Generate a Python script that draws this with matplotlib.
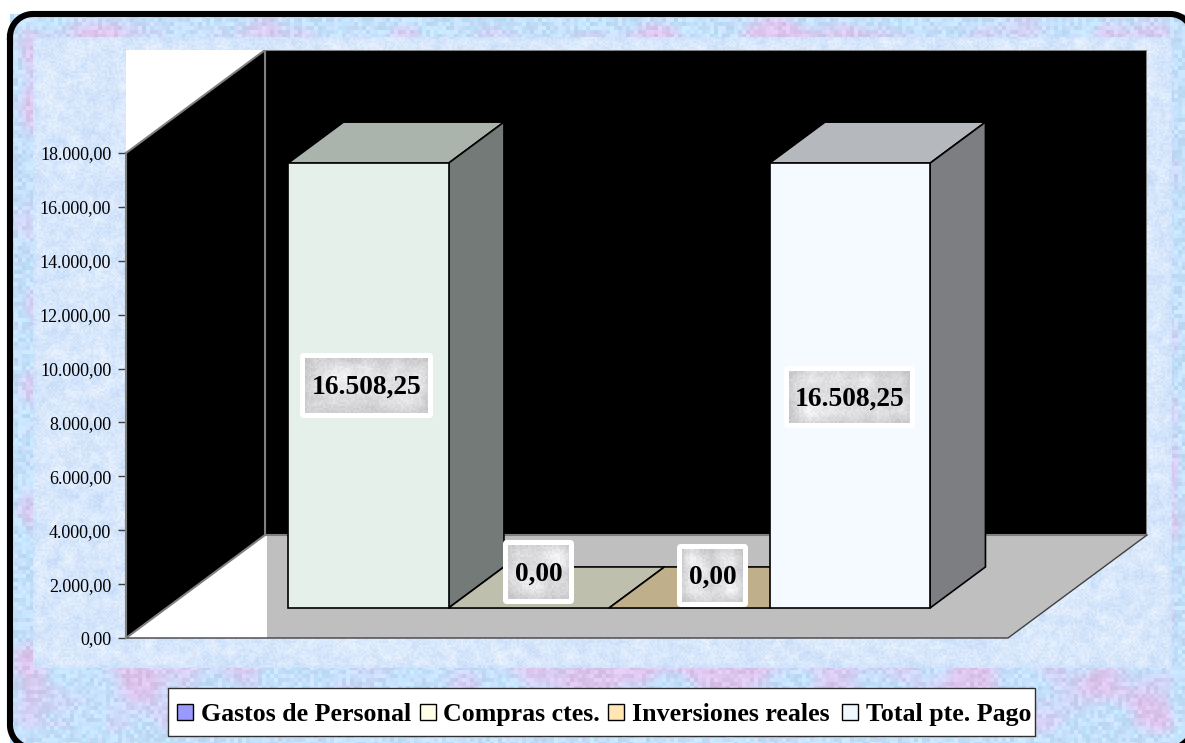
import numpy as np
import matplotlib
matplotlib.use('Agg')
import matplotlib.pyplot as plt
from matplotlib.patches import FancyBboxPatch, Polygon, Rectangle

# DATA
##############################################################################
categories = ['Gastos de Personal', 'Compras ctes.', 'Inversiones reales', 'Total pte. Pago']
values = [16508.25, 0.0, 0.0, 16508.25]
y_ticks = [0, 2000, 4000, 6000, 8000, 10000, 12000, 14000, 16000, 18000]
legend_colors = ['#9999FF', '#FFFFE8', '#FFE6B3', '#F0F8FF']
front_colors = ['#E6F0EB', '#BEBFAD', '#BFAF8A', '#F4FAFF']
side_colors = ['#747A77', '#8F8F82', '#8F8368', '#7D7E82']
top_colors = ['#ABB3AD', '#BEBFAD', '#BFAF8A', '#B5B8BC']

W, H = 1185, 743
SLOT_PX = 160.5
VALUE_PX = 485 / 18000
DEPTH_X = 139 / SLOT_PX    # full floor depth, in slots
DEPTH_Y = 103 / VALUE_PX   # full floor depth, in value units
NEAR, FAR = 0.291, 0.69    # depth range taken up by the bars


# FUNCTIONS
##############################################################################

def spanish(v):
    return f'{v:,.2f}'.replace(',', 'X').replace('.', ',').replace('X', '.')


def proj(x, v, d):  # oblique projection onto the front plane
    return (x + d * DEPTH_X, v + d * DEPTH_Y)


def noise(h, w, block, seed):  # hash noise, blocky, scaled to 0-1
    yy, xx = np.mgrid[0:h // block + 2, 0:w // block + 2]
    n = np.sin(xx * 12.9898 + yy * 78.233 + seed) * 43758.5453
    n = n - np.floor(n)
    return np.kron(n, np.ones((block, block)))[:h, :w]


def blur(a, k):
    kernel = np.ones(k) / k
    a = np.apply_along_axis(lambda r: np.convolve(r, kernel, mode='same'), 0, a)
    return np.apply_along_axis(lambda r: np.convolve(r, kernel, mode='same'), 1, a)


def stretch(a):
    return (a - a.min()) / (a.max() - a.min())


def band_texture(h, w, seed):  # blocky blue/lilac/cyan border
    lilac = stretch(blur(noise(h, w, 24, seed), 37))
    lilac = np.clip((lilac - 0.5) * 3 + 0.35, 0, 1)[..., None]
    cyan = noise(h, w, 4, seed + 1)[..., None]
    fine = noise(h, w, 4, seed + 2)[..., None]
    img = np.array((202, 222, 252)) * np.ones((h, w, 3))
    img = img * (1 - cyan * 0.5) + np.array((182, 234, 252)) * cyan * 0.5
    img = img * (1 - lilac * 0.85) + np.array((226, 194, 236)) * lilac * 0.85
    return np.clip(img + (fine - 0.5) * 24, 0, 255).astype(np.uint8)


def cloud_texture(h, w, base, light, block, seed, spread):  # soft cloudy fill
    soft = stretch(blur(noise(h, w, block, seed), block * 2 - 1))[..., None]
    fine = noise(h, w, 2, seed + 1)[..., None] - 0.5
    img = np.array(base) * (1 - soft) + np.array(light) * soft
    return np.clip(img + fine * spread, 0, 255).astype(np.uint8)


# FIGURE
##############################################################################
plt.rcParams['font.family'] = ['Liberation Serif', 'DejaVu Serif']
fig = plt.figure(figsize=(W / 100, H / 100), dpi=100, facecolor='white')

bg = fig.add_axes([0, 0, 1, 1], zorder=0)
bg.axis('off')
bg.imshow(band_texture(H - 14, W - 10, 1.0), extent=(10, W, H, 14), aspect='auto',
          interpolation='nearest', zorder=1)
bg.imshow(cloud_texture(631, 1139, (200, 222, 250), (232, 241, 254), 5, 2.0, 14), extent=(33, 1172, 668, 37),
          aspect='auto', interpolation='bilinear', zorder=2)

# rounded frame runs past the right and bottom edges of the picture
fx0, fy0, fx1, fy1, fr = 10, 14, 1193, 748, 23
t = np.linspace(0, np.pi / 2, 20)
frame_x = np.r_[fx0 + fr - fr * np.cos(t), fx1 - fr + fr * np.sin(t), fx1 - fr + fr * np.cos(t),
                fx0 + fr - fr * np.sin(t), fx0]
frame_y = np.r_[fy0 + fr - fr * np.sin(t), fy0 + fr - fr * np.cos(t), fy1 - fr + fr * np.sin(t),
                fy1 - fr + fr * np.cos(t), fy0 + fr]
bg.plot(frame_x, frame_y, color='black', lw=4.4, zorder=3)
bg.set_xlim(0, W)
bg.set_ylim(H, 0)

# chart axes: x in bar slots, y in value units
ax = fig.add_axes([126 / W, 1 - 638 / H, 1021 / W, 588 / H], zorder=1)
ax.patch.set_alpha(0)
ax.set_xlim(0, 1021 / SLOT_PX)
ax.set_ylim(0, 588 / VALUE_PX)

floor_w = 882 / SLOT_PX
y_top = 588 / VALUE_PX
white_w = 141 / SLOT_PX

# floor
ax.add_patch(Polygon([proj(0, 0, 0), proj(floor_w, 0, 0), proj(floor_w, 0, 1), proj(0, 0, 1)],
                     fc='#BFBFBF', ec='none', zorder=1))
ax.fill_between([0, white_w], 0, y_top, color='white', lw=0, zorder=2)
# back wall
ax.add_patch(Polygon([proj(0, 0, 1), proj(floor_w, 0, 1), proj(floor_w, 18000, 1), proj(0, 18000, 1)],
                     fc='black', ec='#808080', lw=1.5, zorder=3))
# left wall
ax.add_patch(Polygon([proj(0, 0, 0), proj(0, 0, 1), proj(0, 18000, 1), proj(0, 18000, 0)],
                     fc='black', ec='#808080', lw=1.5, zorder=3))
# floor outline
ax.plot([0, floor_w, floor_w + DEPTH_X], [0, 0, DEPTH_Y], color='#404040', lw=1, zorder=4, clip_on=False)

# bars
bar_x0 = (288 - 126) / SLOT_PX - NEAR * DEPTH_X
for i, v in enumerate(values):
    x = bar_x0 + i
    top = [proj(x, v, NEAR), proj(x + 1, v, NEAR), proj(x + 1, v, FAR), proj(x, v, FAR)]
    ax.add_patch(Polygon(top, fc=top_colors[i], ec='black', lw=1.2, zorder=5 + i))
    if v > 0:
        side = [proj(x + 1, 0, NEAR), proj(x + 1, 0, FAR), proj(x + 1, v, FAR), proj(x + 1, v, NEAR)]
        ax.add_patch(Polygon(side, fc=side_colors[i], ec='black', lw=1.2, zorder=5 + i))
        front = [proj(x, 0, NEAR), proj(x + 1, 0, NEAR), proj(x + 1, v, NEAR), proj(x, v, NEAR)]
        ax.add_patch(Polygon(front, fc=front_colors[i], ec='black', lw=1.2, zorder=5 + i))

# axis
for name in ['top', 'right', 'bottom']:
    ax.spines[name].set_visible(False)
ax.spines['left'].set_bounds(0, 18000)
ax.spines['left'].set_color('#808080')
ax.spines['left'].set_linewidth(1.5)
ax.spines['left'].set_zorder(10)
ax.set_xticks([])
ax.set_yticks(y_ticks)
ax.set_yticklabels([spanish(t) for t in y_ticks], fontsize=13, color='black')
ax.tick_params(axis='y', length=5.6, width=1, pad=5, color='#404040')

# data labels and legend on top of everything
top_ax = fig.add_axes([0, 0, 1, 1], zorder=2)
top_ax.axis('off')

label_boxes = [(300, 353, 433, 418), (503, 540, 574, 604), (677, 544, 748, 607), (784, 366, 915, 428)]
for i, (x0, y0, x1, y1) in enumerate(label_boxes):
    top_ax.add_patch(FancyBboxPatch((x0, y0), x1 - x0, y1 - y0, boxstyle='round,pad=0,rounding_size=4',
                                    fc='white', ec='none', zorder=1))
    tex = cloud_texture(y1 - y0 - 10, x1 - x0 - 10, (196, 196, 199), (246, 246, 248), 10, 3.0 + i, 14)
    top_ax.imshow(tex, extent=(x0 + 5, x1 - 5, y1 - 5, y0 + 5), aspect='auto', interpolation='bilinear', zorder=2)
    top_ax.text((x0 + x1) / 2, (y0 + y1) / 2 + 2, spanish(values[i]), ha='center', va='center',
                fontsize=19.8, fontweight='bold', color='black', zorder=3)

# legend box, drawn by hand so the four names share one baseline
top_ax.add_patch(Rectangle((168, 688), 867, 48, fc='white', ec='#303030', lw=1, zorder=1))
handle_x = [177, 420, 608, 842]
text_x = [201, 443, 632, 866]
for hx, tx, c, name in zip(handle_x, text_x, legend_colors, categories):
    top_ax.add_patch(Rectangle((hx, 704), 16, 16, fc=c, ec='black', lw=1, zorder=2))
    top_ax.text(tx, 721, name, ha='left', va='baseline', fontsize=18.6, fontweight='bold', color='black', zorder=2)

top_ax.set_xlim(0, W)
top_ax.set_ylim(H, 0)

fig.savefig('out.png', dpi=100)
